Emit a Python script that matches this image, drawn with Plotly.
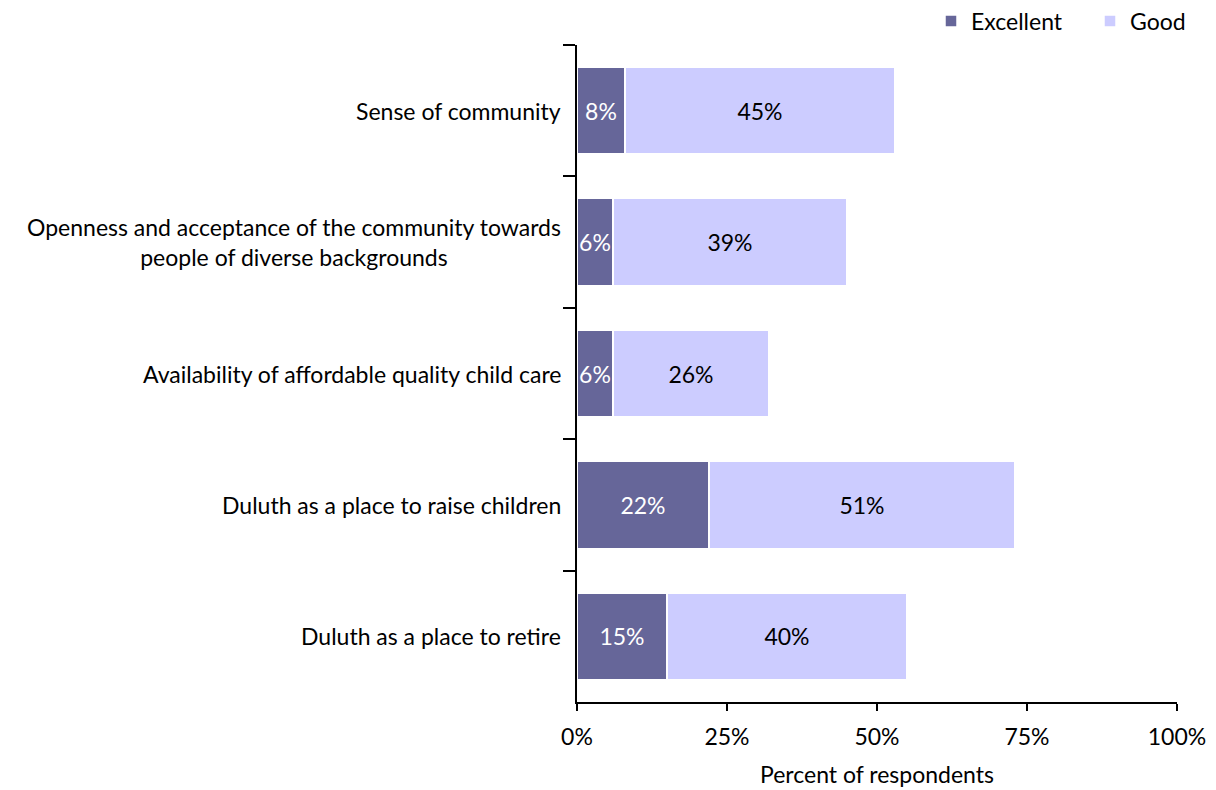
import plotly.graph_objects as go

categories = [
    "Sense of community",
    "Openness and acceptance of the community towards<br>people of diverse backgrounds",
    "Availability of affordable quality child care",
    "Duluth as a place to raise children",
    "Duluth as a place to retire",
]
excellent = [8, 6, 6, 22, 15]
good = [45, 39, 26, 51, 40]
x_ticks = [0, 25, 50, 75, 100]
x_tick_labels = ["0%", "25%", "50%", "75%", "100%"]

FONT = "Lato"
SIZE = 23

fig = go.Figure()
fig.add_trace(go.Bar(
    y=categories, x=excellent, name="Excellent", orientation="h",
    marker=dict(color="#666699", line=dict(color="white", width=1.5)),
    text=[f"{v}%" for v in excellent], textposition="inside", textangle=0,
    insidetextanchor="middle", constraintext="none",
    textfont=dict(family=FONT, size=SIZE, color="white"),
))
fig.add_trace(go.Bar(
    y=categories, x=good, name="Good", orientation="h",
    marker=dict(color="#CCCCFF", line=dict(color="white", width=1.5)),
    text=[f"{v}%" for v in good], textposition="inside", textangle=0,
    insidetextanchor="middle", constraintext="none",
    textfont=dict(family=FONT, size=SIZE, color="black"),
))

# category labels drawn as annotations so wrapped lines are centred
for c in categories:
    fig.add_annotation(
        x=0, xref="x", y=c, yref="y", text=c, showarrow=False,
        xanchor="right", xshift=-14, align="center",
        font=dict(family=FONT, size=SIZE, color="black"),
    )

fig.update_layout(
    width=1216, height=790,
    margin=dict(l=577, r=39, t=45, b=88, autoexpand=False),
    barmode="stack", bargap=0.34,
    paper_bgcolor="white", plot_bgcolor="white",
    font=dict(family=FONT, size=SIZE, color="black"),
    uniformtext=dict(minsize=SIZE, mode="show"),
    legend=dict(
        orientation="h", x=0.59, xanchor="left", y=1.0365, yanchor="middle",
        font=dict(family=FONT, size=SIZE), traceorder="normal",
        itemwidth=30, entrywidth=114, bgcolor="rgba(0,0,0,0)",
    ),
    showlegend=True,
)
fig.update_xaxes(
    range=[0, 100], tickvals=x_ticks, ticktext=x_tick_labels,
    showgrid=False, zeroline=False, showline=True, linecolor="black", linewidth=2,
    ticks="outside", ticklen=7, tickwidth=2, tickcolor="black",
    ticklabelstandoff=6,
    tickfont=dict(family=FONT, size=SIZE),
    title=dict(text="Percent of respondents", font=dict(family=FONT, size=SIZE), standoff=18),
)
fig.update_yaxes(
    autorange="reversed", showticklabels=False, showgrid=False, zeroline=False,
    showline=True, linecolor="black", linewidth=2,
    ticks="outside", tickson="boundaries", ticklen=12, tickwidth=2, tickcolor="black",
)

fig.write_html("out.html")
